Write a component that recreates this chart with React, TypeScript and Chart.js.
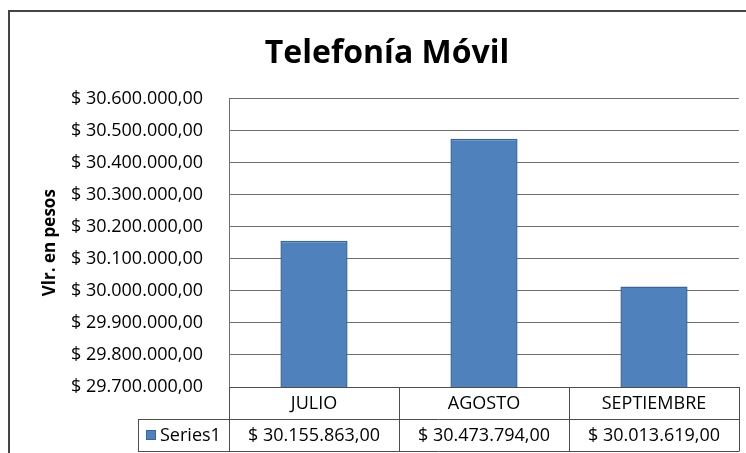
import { useEffect, useRef } from 'react';
import { Chart, registerables } from 'chart.js';

Chart.register(...registerables);

const chartTitle = 'Telefonía Móvil';
const yAxisTitle = 'Vlr. en pesos';
const seriesName = 'Series1';
const categories = ['JULIO', 'AGOSTO', 'SEPTIEMBRE'];
const values = [30155863, 30473794, 30013619];
const yMin = 29700000;
const yMax = 30600000;
const yStep = 100000;

const FONT = "'Open Sans', 'Noto Sans', sans-serif";
const BAR_FILL = '#4F81BD';
const BAR_EDGE = '#3A659A';
const GRID = '#6f6f6f';
const TABLE_LINE = '#4d4d4d';

function fmtMoney(v: number): string {
  const neg = v < 0;
  const abs = Math.abs(v);
  const intPart = Math.floor(abs);
  const dec = Math.round((abs - intPart) * 100);
  const intStr = String(intPart).replace(/\B(?=(\d{3})+(?!\d))/g, '.');
  return (neg ? '-' : '') + '$ ' + intStr + ',' + String(dec).padStart(2, '0');
}

const framePlugin = {
  id: 'frame',
  beforeDraw(chart: any) {
    const { ctx, width, height } = chart;
    ctx.save();
    ctx.fillStyle = '#ffffff';
    ctx.fillRect(0, 0, width, height);
    ctx.strokeStyle = '#444444';
    ctx.lineWidth = 2;
    ctx.beginPath();
    ctx.moveTo(width + 5, 11);
    ctx.lineTo(9, 11);
    ctx.lineTo(9, height + 5);
    ctx.stroke();
    ctx.restore();
  },
};

const tablePlugin = {
  id: 'dataTable',
  afterDraw(chart: any) {
    const { ctx, chartArea } = chart;
    const x = chart.scales.x;
    const left = chartArea.left;
    const right = chartArea.right;
    const top = chartArea.bottom;
    const rowH = 32;
    const mid = top + rowH;
    const bottom = top + rowH * 2;
    const legendLeft = left - 91;
    const n = categories.length;
    const half = n > 1 ? (x.getPixelForValue(1) - x.getPixelForValue(0)) / 2 : (right - left) / 2;

    ctx.save();
    ctx.strokeStyle = TABLE_LINE;
    ctx.lineWidth = 1;
    const hline = (x1: number, x2: number, y: number) => {
      ctx.beginPath();
      ctx.moveTo(x1, Math.round(y) + 0.5);
      ctx.lineTo(x2, Math.round(y) + 0.5);
      ctx.stroke();
    };
    const vline = (xx: number, y1: number, y2: number) => {
      ctx.beginPath();
      ctx.moveTo(Math.round(xx) + 0.5, y1);
      ctx.lineTo(Math.round(xx) + 0.5, y2);
      ctx.stroke();
    };
    hline(left, right, top);
    hline(legendLeft, right, mid);
    hline(legendLeft, right, bottom);
    vline(legendLeft, mid, bottom + 0.5);
    vline(left, top, bottom + 0.5);
    for (let i = 0; i < n; i++) {
      const c = x.getPixelForValue(i);
      vline(c + half, top, bottom + 0.5);
    }

    ctx.fillStyle = '#000000';
    ctx.font = `18px ${FONT}`;
    ctx.textAlign = 'center';
    ctx.textBaseline = 'middle';
    for (let i = 0; i < n; i++) {
      const c = x.getPixelForValue(i);
      ctx.fillText(categories[i], c, top + rowH / 2 + 1);
      ctx.fillText(fmtMoney(values[i]), c, mid + rowH / 2 + 1);
    }

    // legend key
    ctx.fillStyle = BAR_FILL;
    ctx.fillRect(legendLeft + 8, mid + 11, 10, 10);
    ctx.strokeStyle = BAR_EDGE;
    ctx.strokeRect(legendLeft + 8.5, mid + 11.5, 9, 9);
    ctx.fillStyle = '#000000';
    ctx.textAlign = 'left';
    ctx.fillText(seriesName, legendLeft + 22, mid + rowH / 2 + 1);
    ctx.restore();
  },
};

export default function App() {
  const ref = useRef<HTMLCanvasElement | null>(null);

  useEffect(() => {
    if (!ref.current) return;
    const chart = new Chart(ref.current, {
      type: 'bar',
      data: {
        labels: categories,
        datasets: [
          {
            label: seriesName,
            data: values,
            backgroundColor: BAR_FILL,
            borderColor: BAR_EDGE,
            borderWidth: 1.5,
            barPercentage: 0.395,
            categoryPercentage: 1,
          },
        ],
      },
      options: {
        animation: false,
        responsive: false,
        devicePixelRatio: 1,
        layout: { padding: { top: 20, right: 7, bottom: 66, left: 35 } },
        plugins: {
          legend: { display: false },
          tooltip: { enabled: false },
          title: {
            display: true,
            text: chartTitle,
            color: '#000000',
            font: { family: FONT, size: 32, weight: 'bold' },
            padding: { top: 15, bottom: 25 },
          },
        },
        scales: {
          x: { display: false },
          y: {
            min: yMin,
            max: yMax,
            ticks: {
              stepSize: yStep,
              color: '#000000',
              padding: 26,
              font: { family: FONT, size: 18 },
              callback: (v: any) => fmtMoney(Number(v)),
            },
            grid: { color: GRID, drawTicks: false, lineWidth: 1 },
            border: { color: GRID, display: true },
            title: {
              display: true,
              text: yAxisTitle,
              color: '#000000',
              font: { family: FONT, size: 17, weight: 'bold' },
              padding: { top: 5, bottom: 0 },
            },
            afterFit: (s: any) => {
              s.width = 194;
            },
          },
        },
      },
      plugins: [framePlugin, tablePlugin],
    });
    return () => chart.destroy();
  }, []);

  return (
    <div style={{ position: 'absolute', left: 0, top: 0, width: 746, height: 453 }}>
      <canvas ref={ref} width={746} height={453} style={{ display: 'block' }} />
    </div>
  );
}
